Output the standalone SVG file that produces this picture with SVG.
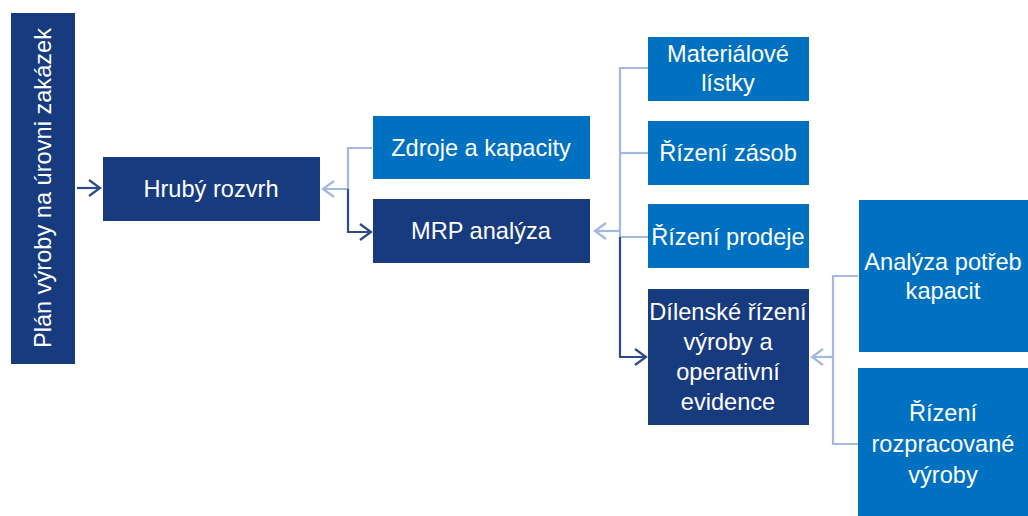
<svg xmlns="http://www.w3.org/2000/svg" width="1028" height="516" viewBox="0 0 1028 516">
<style>
.dark{fill:#173b7e}
.mid{fill:#0070c0}
.t{font-family:"Liberation Sans",Arial,sans-serif;font-size:23.6px;fill:#ffffff;text-anchor:middle}
.cl{fill:none;stroke:#a3b7e3;stroke-width:2.2}
.cd{fill:none;stroke:#2e4a8a;stroke-width:2.2}
</style>
<defs>
<marker id="ad" markerUnits="userSpaceOnUse" markerWidth="16" markerHeight="20" refX="13" refY="9" orient="auto">
<path d="M2,1 L13,9 L2,17" fill="none" stroke="#2e4a8a" stroke-width="2.2"/>
</marker>
<marker id="al" markerUnits="userSpaceOnUse" markerWidth="16" markerHeight="20" refX="13" refY="9" orient="auto">
<path d="M2,1 L13,9 L2,17" fill="none" stroke="#a3b7e3" stroke-width="2.2"/>
</marker>
</defs>
<rect width="1028" height="516" fill="#ffffff"/>
<g id="connectors">
<path class="cd" d="M77,188 H100" marker-end="url(#ad)"/>
<path class="cl" d="M372,148 H348 V189 H323" marker-end="url(#al)"/>
<path class="cd" d="M348,189 V232 H371" marker-end="url(#ad)"/>
<path class="cl" d="M648,68 H620 V237 H648"/>
<path class="cl" d="M648,153 H620"/>
<path class="cl" d="M620,231 H595" marker-end="url(#al)"/>
<path class="cd" d="M620,237 V357 H646" marker-end="url(#ad)"/>
<path class="cl" d="M858,276 H833 V444 H858"/>
<path class="cl" d="M833,357 H812" marker-end="url(#al)"/>
</g>
<g id="plan">
<rect class="dark" x="11" y="13" width="64" height="351"/>
<text class="t" transform="translate(51,188) rotate(-90)">Plán výroby na úrovni zakázek</text>
</g>
<g id="hruby">
<rect class="dark" x="103" y="157" width="217" height="64"/>
<text class="t" x="211" y="197">Hrubý rozvrh</text>
</g>
<g id="zdroje">
<rect class="mid" x="373" y="116" width="217" height="63"/>
<text class="t" x="481" y="156">Zdroje a kapacity</text>
</g>
<g id="mrp">
<rect class="dark" x="373" y="199" width="217" height="64"/>
<text class="t" x="481" y="239">MRP analýza</text>
</g>
<g id="materialove">
<rect class="mid" x="648" y="37" width="161" height="64"/>
<text class="t" x="728" y="62">Materiálové</text>
<text class="t" x="728" y="91">lístky</text>
</g>
<g id="zasob">
<rect class="mid" x="648" y="121" width="161" height="64"/>
<text class="t" x="728" y="161">Řízení zásob</text>
</g>
<g id="prodeje">
<rect class="mid" x="648" y="204" width="161" height="64"/>
<text class="t" x="728" y="245">Řízení prodeje</text>
</g>
<g id="dilenske">
<rect class="dark" x="648" y="289" width="161" height="136"/>
<text class="t" x="728" y="320">Dílenské řízení</text>
<text class="t" x="728" y="350">výroby a</text>
<text class="t" x="728" y="380">operativní</text>
<text class="t" x="728" y="410">evidence</text>
</g>
<g id="analyza">
<rect class="mid" x="859" y="200" width="169" height="152"/>
<text class="t" x="943" y="270">Analýza potřeb</text>
<text class="t" x="943" y="299">kapacit</text>
</g>
<g id="rozpracovane">
<rect class="mid" x="858" y="368" width="170" height="152"/>
<text class="t" x="943" y="421">Řízení</text>
<text class="t" x="943" y="452">rozpracované</text>
<text class="t" x="943" y="483">výroby</text>
</g>
</svg>
